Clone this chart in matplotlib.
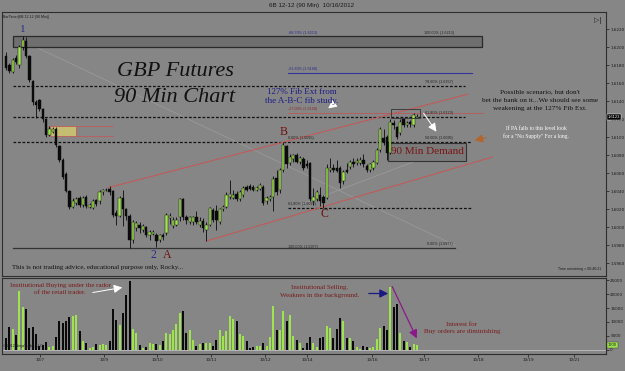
import numpy as np
import matplotlib.pyplot as plt
from matplotlib.patches import Rectangle
from matplotlib.transforms import blended_transform_factory

# 6B 12-12, 90 min bars (bar 0 = first bar on the chart)
opens = [1.6190, 1.6180, 1.6173, 1.6188, 1.6180, 1.6200, 1.6207, 1.6190, 1.6163, 1.6139,
         1.6141, 1.6132, 1.6120, 1.6103, 1.6106, 1.6109, 1.6090, 1.6075, 1.6059, 1.6040,
         1.6023, 1.6027, 1.6033, 1.6025, 1.6034, 1.6023, 1.6022, 1.6030, 1.6029, 1.6039,
         1.6041, 1.6043, 1.6040, 1.6016, 1.6013, 1.6033, 1.6020, 1.6013, 1.5986, 1.5999,
         1.6003, 1.5997, 1.6000, 1.5991, 1.5993, 1.5992, 1.5986, 1.5991, 1.5994, 1.6010,
         1.6002, 1.6003, 1.6011, 1.6031, 1.6012, 1.6006, 1.6006, 1.6011, 1.6003, 1.6007,
         1.5997, 1.6003, 1.6019, 1.6018, 1.6006, 1.6020, 1.6023, 1.6034, 1.6033, 1.6037,
         1.6031, 1.6036, 1.6045, 1.6046, 1.6045, 1.6042, 1.6043, 1.6045, 1.6029, 1.6031,
         1.6034, 1.6055, 1.6041, 1.6064, 1.6090, 1.6071, 1.6076, 1.6080, 1.6073, 1.6076,
         1.6070, 1.6071, 1.6029, 1.6032, 1.6036, 1.6034, 1.6033, 1.6064, 1.6066, 1.6066,
         1.6066, 1.6051, 1.6064, 1.6067, 1.6073, 1.6071, 1.6071, 1.6075, 1.6068, 1.6064,
         1.6066, 1.6072, 1.6086, 1.6099, 1.6100, 1.6083, 1.6116, 1.6111, 1.6105, 1.6120,
         1.6114, 1.6117, 1.6114, 1.6122]
highs = [1.6195, 1.6183, 1.6188, 1.6191, 1.6203, 1.6213, 1.6212, 1.6191, 1.6164, 1.6142,
         1.6143, 1.6133, 1.6122, 1.6113, 1.6111, 1.6111, 1.6092, 1.6077, 1.6061, 1.6042,
         1.6033, 1.6034, 1.6035, 1.6035, 1.6036, 1.6027, 1.6031, 1.6032, 1.6042, 1.6043,
         1.6044, 1.6046, 1.6042, 1.6019, 1.6035, 1.6042, 1.6022, 1.6015, 1.6008, 1.6007,
         1.6006, 1.6004, 1.6002, 1.5997, 1.5997, 1.5994, 1.5993, 1.5994, 1.6016, 1.6016,
         1.6012, 1.6011, 1.6033, 1.6033, 1.6014, 1.6013, 1.6013, 1.6018, 1.6012, 1.6010,
         1.6006, 1.6023, 1.6021, 1.6025, 1.6022, 1.6025, 1.6039, 1.6053, 1.6042, 1.6040,
         1.6041, 1.6046, 1.6047, 1.6048, 1.6047, 1.6046, 1.6049, 1.6047, 1.6035, 1.6036,
         1.6057, 1.6064, 1.6066, 1.6095, 1.6092, 1.6081, 1.6082, 1.6083, 1.6079, 1.6078,
         1.6075, 1.6073, 1.6044, 1.6042, 1.6045, 1.6036, 1.6070, 1.6077, 1.6070, 1.6075,
         1.6068, 1.6064, 1.6072, 1.6075, 1.6077, 1.6077, 1.6078, 1.6081, 1.6070, 1.6072,
         1.6075, 1.6088, 1.6111, 1.6109, 1.6103, 1.6120, 1.6119, 1.6113, 1.6120, 1.6122,
         1.6118, 1.6119, 1.6127, 1.6126]
lows = [1.6175, 1.6171, 1.6171, 1.6182, 1.6177, 1.6197, 1.6188, 1.6162, 1.6136, 1.6122,
        1.6129, 1.6117, 1.6100, 1.6101, 1.6105, 1.6089, 1.6073, 1.6054, 1.6039, 1.6020,
        1.6021, 1.6025, 1.6023, 1.6023, 1.6022, 1.6021, 1.6020, 1.6024, 1.6026, 1.6036,
        1.6040, 1.6036, 1.6012, 1.6003, 1.6011, 1.6001, 1.6008, 1.5977, 1.5983, 1.5996,
        1.5994, 1.5995, 1.5989, 1.5986, 1.5991, 1.5978, 1.5984, 1.5986, 1.5992, 1.6004,
        1.5999, 1.6001, 1.6007, 1.6008, 1.6004, 1.6004, 1.6003, 1.6004, 1.6000, 1.5995,
        1.5985, 1.6001, 1.6006, 1.5997, 1.6004, 1.6018, 1.6021, 1.6032, 1.6031, 1.6029,
        1.6029, 1.6034, 1.6040, 1.6041, 1.6040, 1.6040, 1.6041, 1.6025, 1.6026, 1.6029,
        1.6018, 1.6036, 1.6038, 1.6062, 1.6066, 1.6069, 1.6073, 1.6071, 1.6070, 1.6064,
        1.6066, 1.6029, 1.6025, 1.6029, 1.6024, 1.6021, 1.6031, 1.6062, 1.6062, 1.6062,
        1.6044, 1.6048, 1.6060, 1.6065, 1.6067, 1.6069, 1.6069, 1.6067, 1.6062, 1.6062,
        1.6064, 1.6070, 1.6084, 1.6092, 1.6075, 1.6081, 1.6109, 1.6098, 1.6103, 1.6112,
        1.6112, 1.6112, 1.6112, 1.6121]
closes = [1.6177, 1.6174, 1.6186, 1.6184, 1.6200, 1.6208, 1.6190, 1.6164, 1.6139, 1.6136,
          1.6132, 1.6120, 1.6103, 1.6109, 1.6109, 1.6092, 1.6075, 1.6056, 1.6040, 1.6023,
          1.6029, 1.6031, 1.6025, 1.6033, 1.6024, 1.6025, 1.6029, 1.6026, 1.6039, 1.6041,
          1.6042, 1.6039, 1.6014, 1.6013, 1.6033, 1.6020, 1.6013, 1.5986, 1.6006, 1.6005,
          1.5999, 1.6002, 1.5991, 1.5995, 1.5995, 1.5985, 1.5991, 1.5989, 1.6014, 1.6013,
          1.6008, 1.6008, 1.6031, 1.6011, 1.6008, 1.6011, 1.6011, 1.6006, 1.6007, 1.5999,
          1.6003, 1.6021, 1.6008, 1.6008, 1.6020, 1.6023, 1.6036, 1.6037, 1.6036, 1.6031,
          1.6039, 1.6044, 1.6042, 1.6043, 1.6042, 1.6044, 1.6047, 1.6027, 1.6033, 1.6034,
          1.6054, 1.6039, 1.6064, 1.6092, 1.6070, 1.6078, 1.6080, 1.6073, 1.6077, 1.6066,
          1.6068, 1.6031, 1.6034, 1.6039, 1.6029, 1.6027, 1.6066, 1.6066, 1.6064, 1.6063,
          1.6049, 1.6062, 1.6062, 1.6073, 1.6070, 1.6074, 1.6075, 1.6070, 1.6064, 1.6070,
          1.6073, 1.6086, 1.6109, 1.6095, 1.6083, 1.6117, 1.6114, 1.6100, 1.6117, 1.6114,
          1.6116, 1.6115, 1.6125, 1.6123]
volumes = [4200, 8100, 7600, 5200, 21300, 15500, 14600, 7800, 8100, 5700,
           1300, 1600, 2800, 1000, 1300, 4700, 10200, 9800, 10200, 11900,
           12200, 12400, 6900, 3300, 2300, 600, 1100, 2000, 1800, 2000,
           1800, 3300, 14800, 10700, 9000, 13400, 19900, 24900, 7600, 5900,
           1800, 600, 1100, 2300, 2000, 2000, 1600, 3000, 6100, 5700,
           7100, 9300, 13100, 14100, 5900, 7100, 3500, 1300, 2000, 2300,
           2300, 2400, 1200, 3600, 7000, 4800, 6600, 12300, 11200, 10500,
           5700, 4900, 3300, 600, 800, 1300, 1400, 2300, 1300, 4500,
           15800, 7000, 7100, 14100, 10500, 12400, 4900, 3500, 2300, 600,
           2300, 4700, 2300, 800, 4200, 4500, 8700, 7800, 4200, 7400,
           11400, 10200, 4200, 4200, 3000, 800, 400, 1200, 1100, 600,
           1100, 4000, 7800, 8700, 7000, 22500, 15300, 16500, 6100, 3300,
           2800, 800, 2000, 1700]

date_pos = [10.2, 29.3, 45.2, 61.4, 77.5, 90.1, 109.6, 125.1, 141.3, 156.3, 170.1]
date_labels = ['10/7', '10/9', '10/10', '10/11', '10/12', '10/14', '10/16',
               '10/17', '10/18', '10/19', '10/21']
price_ticks = [1.5960, 1.5980, 1.6000, 1.6020, 1.6040, 1.6060, 1.6080, 1.6100,
               1.6120, 1.6140, 1.6160, 1.6180, 1.6200, 1.6220]
vol_ticks = [0, 5000, 10000, 15000, 20000, 25000]
last_price = 1.6123

# fib levels: price, start bar, end bar, style
fib_lines = [
    (1.6172, 84.4, 139.5, '-', '#34349a', 0.8),
    (1.6157, 2.1, 137.4, (0, (2.2, 1.4)), '#111111', 0.9),
    (1.6127, 84.4, 142.8, '-', '#b85a5a', 0.6),
    (1.6123, 2.1, 137.4, (0, (2.2, 1.4)), '#111111', 0.9),
    (1.6095, 2.1, 139.5, (0, (2.2, 1.4)), '#111111', 0.9),
    (1.6022, 84.4, 139.5, (0, (2.2, 1.4)), '#111111', 0.9),
    (1.5977, 2.1, 134.4, '-', '#333333', 0.9),
]
fib_texts = [
    (84.4, 1.6214, '-88.70% (1.6213)', '#2a2a90'),
    (125.0, 1.6214, '100.00% (1.6213)', '#222222'),
    (84.4, 1.6174, '-61.80% (1.6168)', '#2a2a90'),
    (125.5, 1.6159, '78.60% (1.6157)', '#222222'),
    (84.4, 1.6129, '-27.00% (1.6128)', '#8a2a2a'),
    (125.5, 1.6125, '61.80% (1.6123)', '#222222'),
    (84.4, 1.6097, '0.00% (1.6095)', '#222222'),
    (125.5, 1.6097, '50.00% (1.6095)', '#222222'),
    (84.4, 1.6024, '61.80% (1.6022)', '#222222'),
    (84.4, 1.5976, '100.00% (1.5977)', '#222222'),
    (126.0, 1.5979, '0.00% (1.5977)', '#222222'),
]
channel_upper = ([30.5, 138.3], [1.6044, 1.6148])
channel_lower = ([60.2, 145.5], [1.5985, 1.6078])

BG = '#868686'
GREEN = '#9fe44e'
SERIF = 'Liberation Serif'
SANS = 'Liberation Sans'

fig = plt.figure(figsize=(6.25, 3.71), dpi=100, facecolor=BG)
ax = fig.add_axes([0.0032, 0.2561, 0.9664, 0.7116], facecolor=BG)
axv = fig.add_axes([0.0032, 0.0458, 0.9664, 0.2049], facecolor=BG, sharex=ax)

idx = np.arange(len(closes))
o = np.array(opens)
c = np.array(closes)
up = c >= o
cols = np.where(up, GREEN, '#0a0a0a')

# candles
ax.vlines(idx, lows, highs, color='#0a0a0a', lw=0.6, zorder=4)
ax.bar(idx, np.maximum(np.abs(c - o), 0.00008), bottom=np.minimum(o, c), width=0.7,
       color=cols, edgecolor='#0a0a0a', lw=0.3, zorder=5)

# drawing objects
ax.add_patch(Rectangle((2.1, 1.6200), 140.4, 0.0013, fc='#6f6f6f', ec='#2a2a2a', lw=0.9, zorder=2))
for y, x0, x1, ls, col, lw in fib_lines:
    ax.plot([x0, x1], [y, y], ls=ls, color=col, lw=lw, zorder=2)
for x, y, s, col in fib_texts:
    ax.text(x, y, s, fontsize=2.7, color=col, family=SANS, va='bottom', zorder=6)
ax.plot(*channel_upper, color='#c25a5a', lw=0.8, zorder=2)
ax.plot(*channel_lower, color='#c25a5a', lw=0.8, zorder=2)
ax.plot([6.3, 134.4], [1.6205, 1.5980], color='#9c9c9c', lw=0.5, zorder=1)
ax.plot([88.0, 130.0], [1.6025, 1.6084], color='#9c9c9c', lw=0.5, zorder=1)

ax.add_patch(Rectangle((13.2, 1.6102), 7.8, 0.0011, fc='#c4bd72', ec='#c25a5a', lw=0.6, zorder=3))
ax.plot([21, 32], [1.6113, 1.6113], color='#c25a5a', lw=0.6, zorder=3)
ax.plot([21, 32], [1.6102, 1.6102], color='#c25a5a', lw=0.6, zorder=3)

ax.add_patch(Rectangle((114.4, 1.6074), 23.3, 0.0020, fc='#7a7a7a', ec='#333333', lw=0.8, zorder=3))
ax.text(126.0, 1.6084, '90 Min Demand', fontsize=8, color='#7a1414', family=SERIF,
        ha='center', va='center', zorder=6)
ax.add_patch(Rectangle((115.3, 1.6122), 8.7, 0.0009, fc='none', ec='#333333', lw=0.6, zorder=6))

ax.set_xlim(-1.2, 179.6)
ax.set_ylim(1.59459, 1.62393)
ax.yaxis.tick_right()
ax.set_yticks(price_ticks)
ax.set_yticklabels(['%.4f' % p for p in price_ticks])
ax.tick_params(axis='y', labelsize=3, colors='#1a1a1a', length=2, width=0.5, pad=1)
ax.tick_params(axis='x', bottom=False, labelbottom=False)
tr = blended_transform_factory(ax.transAxes, ax.transData)
ax.text(1.003, last_price, '%.4f' % last_price, transform=tr, fontsize=3, color='white',
        va='center', family=SANS,
        bbox=dict(boxstyle='square,pad=0.25', fc='black', ec='white', lw=0.3), zorder=7)

# volume
axv.bar(idx, volumes, width=0.6, color=cols, zorder=3)
axv.axhline(0, color='#bdbdbd', lw=0.6, zorder=2)
axv.set_ylim(-1570, 25900)
axv.yaxis.tick_right()
axv.set_yticks(vol_ticks)
axv.set_yticklabels([str(v) for v in vol_ticks])
axv.tick_params(axis='y', labelsize=3, colors='#1a1a1a', length=2, width=0.5, pad=1)
axv.set_xticks(date_pos)
axv.set_xticklabels(date_labels)
axv.tick_params(axis='x', labelsize=3, colors='#1a1a1a', length=2, width=0.5, pad=1)
trv = blended_transform_factory(axv.transAxes, axv.transData)
axv.text(1.003, volumes[-1], str(volumes[-1]), transform=trv, fontsize=3, color='#111',
         va='center', family=SANS,
         bbox=dict(boxstyle='square,pad=0.25', fc=GREEN, ec='#333', lw=0.3), zorder=7)

for a in (ax, axv):
    for s in a.spines.values():
        s.set_color('#2e2e2e')
        s.set_linewidth(0.8)

# texts placed in screen pixels
def ft(px, py, s, **kw):
    fig.text(px / 625, 1 - py / 371, s, **kw)

ft(312, 6, '6B 12-12 (90 Min)  10/16/2012', fontsize=4.5, color='#1a1a1a', family=SANS,
   ha='center', va='center')
ft(3, 17, 'BarTimer(6B 12-12 (90 Min))', fontsize=2.6, color='#1a1a1a', family=SANS, va='center')
ft(598, 20, '▷|', fontsize=5, color='#222', family='DejaVu Sans', ha='center', va='center')
ft(23, 30, '1', fontsize=8, color='#2a2a90', family=SERIF, ha='center', va='center')
ft(175, 71, 'GBP Futures', fontsize=16, color='#111', family=SERIF, style='italic',
   ha='center', va='center')
ft(175, 98, '90 Min Chart', fontsize=16, color='#111', family=SERIF, style='italic',
   ha='center', va='center')
ft(302, 92, '127% Fib Ext from', fontsize=6.5, color='#1c1c88', family=SERIF, ha='center', va='center')
ft(302, 101, 'the A-B-C fib study.', fontsize=6.5, color='#1c1c88', family=SERIF, ha='center', va='center')
ft(284, 132, 'B', fontsize=8.5, color='#6e1010', family=SERIF, ha='center', va='center')
ft(324, 214, 'C', fontsize=8.5, color='#6e1010', family=SERIF, ha='center', va='center')
ft(153, 255, '2', fontsize=8.5, color='#2a2a90', family=SERIF, ha='center', va='center')
ft(167, 255, 'A', fontsize=8.5, color='#6e1010', family=SERIF, ha='center', va='center')
ft(540, 92, "Possible scenario, but don't", fontsize=5.2, color='#111', family=SERIF, ha='center', va='center')
ft(540, 100, 'bet the bank on it...We should see some', fontsize=5.2, color='#111', family=SERIF,
   ha='center', va='center')
ft(540, 108.5, 'weakening at the 127% Fib Ext.', fontsize=5.2, color='#111', family=SERIF,
   ha='center', va='center')
ft(536, 128, 'If PA falls to this level look', fontsize=4, color='white', family=SERIF, ha='center', va='center')
ft(536, 136, 'for a "No Supply" For a long.', fontsize=4, color='white', family=SERIF, ha='center', va='center')
ft(12, 267, 'This is not trading advice, educational purpose only, Rocky...', fontsize=5,
   color='#111', family=SERIF, va='center')
ft(601, 269, 'Time remaining = 00:40:21', fontsize=2.6, color='#1a1a1a', family=SANS,
   ha='right', va='center')
ft(60, 285, 'Institutional Buying under the rador', fontsize=5, color='#7a1a1a', family=SERIF,
   ha='center', va='center')
ft(60, 293, 'of the retail trader.', fontsize=5, color='#7a1a1a', family=SERIF, ha='center', va='center')
ft(320, 287, 'Institutional Selling.', fontsize=5, color='#7a1a1a', family=SERIF, ha='center', va='center')
ft(320, 295, 'Weaknes in the background.', fontsize=5, color='#7a1a1a', family=SERIF,
   ha='center', va='center')
ft(462, 324, 'Interest for', fontsize=5, color='#7a1a1a', family=SERIF, ha='center', va='center')
ft(462, 332, 'Buy orders are diminishing', fontsize=5, color='#7a1a1a', family=SERIF,
   ha='center', va='center')
ft(3, 346, '© 2012 NinjaTrader, LLC', fontsize=2.6, color='#1a1a1a', family=SANS, va='center')

# arrows (figure pixels, y from bottom)
def arrow(x0, y0, x1, y1, col, lw=0.8, hw=2.5):
    fig.add_artist(plt.Annotation('', xy=(x1, 371 - y1), xytext=(x0, 371 - y0),
                                  xycoords='figure pixels', textcoords='figure pixels',
                                  arrowprops=dict(arrowstyle='-|>,head_length=0.5,head_width=0.25',
                                                  color=col, lw=lw)))

arrow(334, 104, 326, 110, 'white', 0.7)
arrow(422, 111, 438, 134, 'white', 0.7)
arrow(489, 137, 472, 141, '#b4652a', 0.7)
arrow(90, 293, 125, 287, 'white', 0.7)
arrow(366, 293.5, 391, 293.5, '#1a1a80', 0.9)
arrow(391, 284, 418, 341, '#8a1a8a', 0.9)

fig.savefig('out.png', dpi=100, facecolor=BG)
